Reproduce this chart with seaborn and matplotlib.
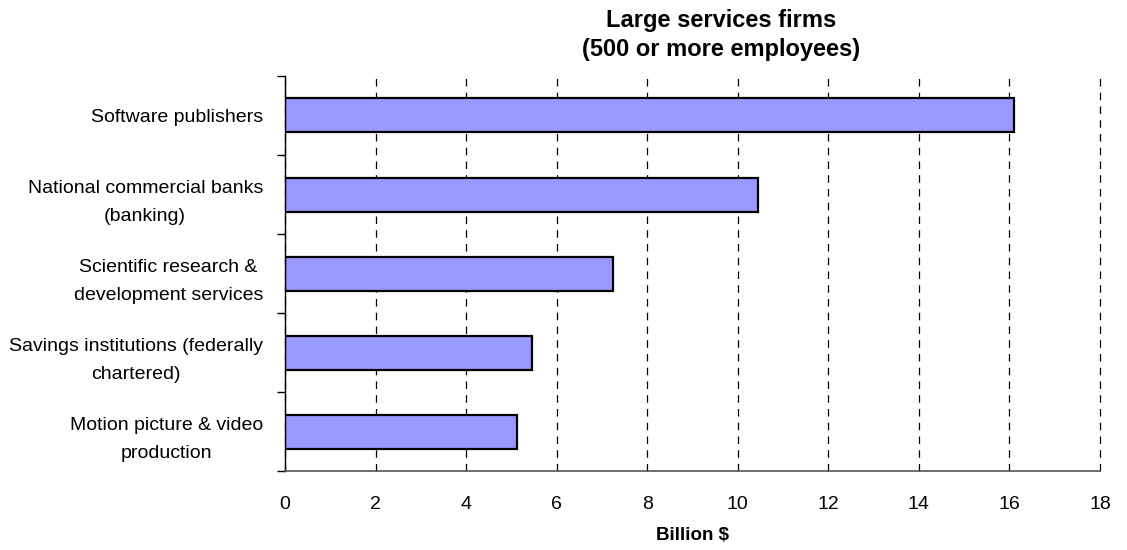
import seaborn as sns
import matplotlib.pyplot as plt
import pandas as pd
from matplotlib.ticker import FixedLocator, NullFormatter

# Dados do gráfico
industries = [
    "Software publishers",
    "National commercial banks\n(banking)",
    "Scientific research &\ndevelopment services",
    "Savings institutions (federally\nchartered)",
    "Motion picture & video\nproduction",
]
billions = [16.1, 10.45, 7.25, 5.45, 5.12]
x_ticks = [0, 2, 4, 6, 8, 10, 12, 14, 16, 18]

df = pd.DataFrame({"industry": industries, "billion": billions})

sns.set_style("white")
plt.rcParams["font.family"] = ["Liberation Sans", "DejaVu Sans"]
plt.rcParams["text.color"] = "black"
plt.rcParams["axes.labelcolor"] = "black"
plt.rcParams["xtick.color"] = "black"
plt.rcParams["ytick.color"] = "black"

fig = plt.figure(figsize=(11.27, 5.5), dpi=100)
ax = fig.add_axes([0.253, 0.143, 0.723, 0.719])

sns.barplot(data=df, x="billion", y="industry", orient="h", color="#9999ff",
            saturation=1, edgecolor="black", linewidth=1.6, width=0.43, ax=ax)

ax.set_xlim(0, 18)
ax.set_ylim(len(industries) - 0.5, -0.5)
ax.set_xticks(x_ticks)
ax.set_xticklabels([str(t) for t in x_ticks], fontsize=14)
ax.set_yticks(range(len(industries)))
ax.set_yticklabels(industries, fontsize=14, multialignment="center", linespacing=1.85)
ax.tick_params(axis="y", which="major", length=0, pad=16)
ax.yaxis.set_minor_locator(FixedLocator([i - 0.5 for i in range(len(industries) + 1)]))
ax.yaxis.set_minor_formatter(NullFormatter())
ax.tick_params(axis="y", which="minor", length=6, width=1, color="black", left=True)
ax.tick_params(axis="x", length=6, width=1, color="#555555", pad=12)

ax.grid(axis="x", linestyle=(0, (6, 5)), color="black", linewidth=0.9)
for line in ax.get_xgridlines():
    line.set_clip_on(False)
ax.set_axisbelow(True)

sns.despine(ax=ax, top=True, right=True)
ax.spines["left"].set_color("black")
ax.spines["left"].set_linewidth(1)
ax.spines["bottom"].set_color("#555555")
ax.spines["bottom"].set_linewidth(1.2)

ax.set_ylabel("")
ax.set_xlabel("Billion $", fontsize=13.5, fontweight="bold", labelpad=10)

fig.text(0.64, 0.936, "Large services firms\n(500 or more employees)", ha="center",
         va="center", fontsize=17, fontweight="bold", linespacing=1.3)

fig.savefig("out.png", dpi=100)
